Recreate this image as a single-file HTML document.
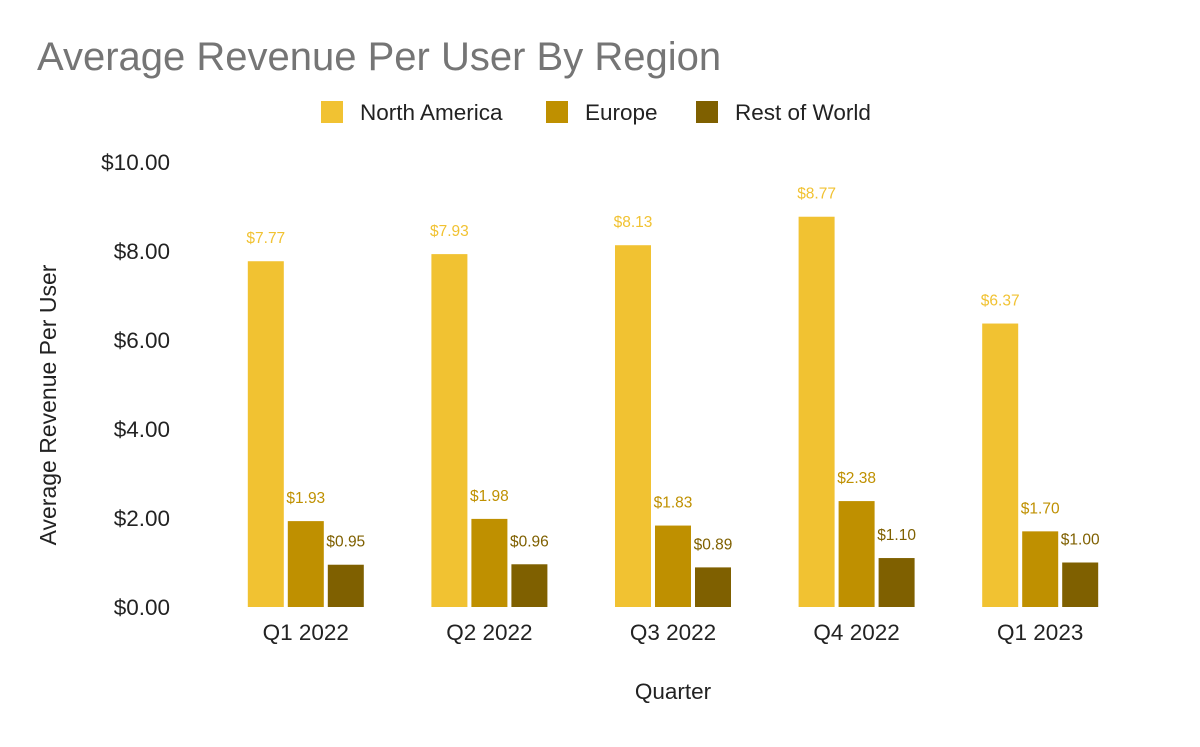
<!DOCTYPE html>
<html><head><meta charset="utf-8"><style>
body{margin:0;background:#fff;font-family:"Liberation Sans",Arial,sans-serif;}
svg text{font-family:"Liberation Sans",Arial,sans-serif;}
</style></head><body>
<svg id="chart" width="1200" height="742">
<text x="37" y="70" font-size="40" fill="#757575">Average Revenue Per User By Region</text>
<g>
<rect x="321" y="101" width="22" height="22" fill="#f1c232"></rect>
<text x="360" y="120" font-size="22.5" fill="#222">North America</text>
<rect x="546" y="101" width="22" height="22" fill="#bf9000"></rect>
<text x="585" y="120" font-size="22.5" fill="#222">Europe</text>
<rect x="696" y="101" width="22" height="22" fill="#7f6000"></rect>
<text x="735" y="120" font-size="22.5" fill="#222">Rest of World</text>
</g>
<text transform="translate(56,405) rotate(-90)" text-anchor="middle" font-size="23" fill="#222">Average Revenue Per User</text>
<text x="673" y="699" text-anchor="middle" font-size="22.5" fill="#222">Quarter</text>
<g id="marks"></g>
</svg>
<script>
const categories=["Q1 2022","Q2 2022","Q3 2022","Q4 2022","Q1 2023"];
const northAmerica=[7.77,7.93,8.13,8.77,6.37];
const europe=[1.93,1.98,1.83,2.38,1.70];
const restOfWorld=[0.95,0.96,0.89,1.10,1.00];
const yTicks=[0,2,4,6,8,10];
const seriesNames=["north-america","europe","rest-of-world"];
const seriesColors=["#f1c232","#bf9000","#7f6000"];
const NS="http://www.w3.org/2000/svg";
const g=document.getElementById("marks");
const y0=607,yTop=162,yMax=10,left=214,right=1132;
const band=(right-left)/categories.length;
function y(v){return y0-(v/yMax)*(y0-yTop);}
function xc(i){return left+band*(i+0.5);}
function mk(tag,attrs,text){const e=document.createElementNS(NS,tag);for(const k in attrs)e.setAttribute(k,attrs[k]);if(text!==undefined)e.textContent=text;g.appendChild(e);return e;}
yTicks.forEach(t=>{
 const e=mk("text",{x:170,y:y(t)+8,"text-anchor":"end","font-size":"22.5",fill:"#222"},"$"+t.toFixed(2));
 
 
});
const series=[northAmerica,europe,restOfWorld];
const bw=36,gap=4;
categories.forEach((c,i)=>{
 const e=mk("text",{x:xc(i),y:640,"text-anchor":"middle","font-size":"22.5",fill:"#222"},c);
 
 
 series.forEach((s,j)=>{
  const x=xc(i)+(j-1)*(bw+gap)-bw/2;
  const r=mk("rect",{x:x,y:y(s[i]),width:bw,height:y0-y(s[i]),fill:seriesColors[j]});
  
  
  const l=mk("text",{x:x+bw/2,y:y(s[i])-18,"text-anchor":"middle","font-size":"15.5",fill:seriesColors[j]},"$"+s[i].toFixed(2));
  
  
 });
});
</script>
</body></html>
